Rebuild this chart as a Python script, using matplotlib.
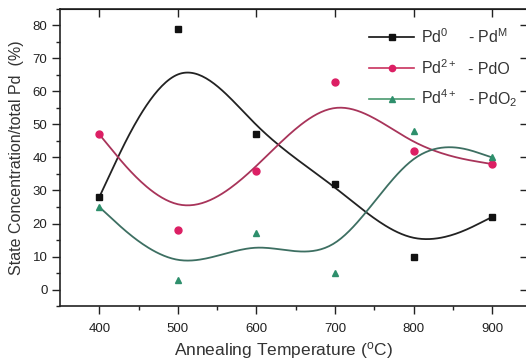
import matplotlib
matplotlib.use("Agg")
import matplotlib.pyplot as plt
import numpy as np

plt.rcParams["font.family"] = ["Liberation Sans", "DejaVu Sans"]
plt.rcParams["mathtext.fontset"] = "custom"
plt.rcParams["mathtext.rm"] = "Liberation Sans"
plt.rcParams["mathtext.it"] = "Liberation Sans"

temps = [400, 500, 600, 700, 800, 900]
pd0 = [28, 79, 47, 32, 10, 22]
pd2 = [47, 18, 36, 63, 42, 38]
pd4 = [25, 3, 17, 5, 48, 40]

labels = ["Pd$^0$", "Pd$^{2+}$", "Pd$^{4+}$"]
suffixes = ["- Pd$^M$", "- PdO", "- PdO$_2$"]


def bspline(xs, ys, n=40):
    # uniform cubic B-spline, end points repeated so the curve hits them
    P = np.column_stack([xs, ys]).astype(float)
    P = np.vstack([P[0], P[0], P, P[-1], P[-1]])
    M = np.array([[-1, 3, -3, 1], [3, -6, 3, 0], [-3, 0, 3, 0], [1, 4, 1, 0]]) / 6.0
    u = np.linspace(0, 1, n)
    U = np.column_stack([u ** 3, u ** 2, u, np.ones_like(u)])
    segs = [U @ M @ P[i:i + 4] for i in range(len(P) - 3)]
    c = np.vstack(segs)
    return c[:, 0], c[:, 1]


fig = plt.figure(figsize=(5.26, 3.63), dpi=100)
ax = fig.add_axes([60 / 526, 57 / 363, 470 / 526, 297 / 363])

series = [
    (pd0, "s", "#111111", "#222222", "#111111"),
    (pd2, "o", "#dc1f64", "#a8345a", "#c8325e"),
    (pd4, "^", "#2e8f6c", "#3d6f62", "#4a9a70"),
]
handles = []
for (vals, mk, mcol, ccol, lcol), lab in zip(series, labels):
    cx, cy = bspline(temps, vals)
    ax.plot(cx, cy, color=ccol, lw=1.3, zorder=2)
    ax.plot(temps, vals, ls="none", marker=mk, ms=5, color=mcol, zorder=3)
    h, = ax.plot([], [], color=lcol, lw=1.2, marker=mk, ms=4.5, mfc=mcol, mec=mcol, label=lab)
    handles.append(h)

ax.set_xlim(350, 948)
ax.set_ylim(-5, 85)
ax.set_xticks(temps)
ax.set_xticks(np.arange(450, 950, 100), minor=True)
ax.set_yticks(np.arange(0, 81, 10))
ax.set_yticks(np.arange(-5, 86, 5), minor=True)
ax.tick_params(axis="both", which="major", direction="out", length=6, width=1,
               labelsize=9.5, colors="#222222", pad=3)
ax.tick_params(axis="both", which="minor", direction="out", length=3, width=1, colors="#222222")
ax.tick_params(axis="x", which="major", pad=6)
for sp in ax.spines.values():
    sp.set_linewidth(1.2)
    sp.set_color("#222222")

# top and right axes: inward major ticks only
top = ax.secondary_xaxis("top")
top.set_xticks(temps)
top.tick_params(direction="in", length=6, width=1, labeltop=False, colors="#222222")
right = ax.secondary_yaxis("right")
right.set_yticks(np.arange(0, 81, 10))
right.tick_params(direction="in", length=7, width=1, labelright=False, colors="#222222")

ax.set_xlabel("Annealing Temperature ($^{\\rm o}$C)", fontsize=12.5, color="#333333")
ax.xaxis.set_label_coords(223 / 470, -34 / 297)
ax.set_ylabel("State Concentration/total Pd  (%)", fontsize=11.5, color="#333333", labelpad=6)

leg = ax.legend(handles=handles, loc="upper left", bbox_to_anchor=(303 / 470, 1 - 12 / 297),
                frameon=False, fontsize=11.5, handlelength=2.8, handletextpad=0.45,
                labelspacing=0.75, borderaxespad=0)
for t in leg.get_texts():
    t.set_color("#333333")

fig.canvas.draw()
inv = fig.transFigure.inverted()
for t, suf in zip(leg.get_texts(), suffixes):
    px, py = t.get_transform().transform(t.get_position())
    y = inv.transform((px, py))[1]
    fig.text(468 / 526, y, suf, fontsize=11.5, color="#333333", va="baseline", ha="left")

fig.savefig("out.png", dpi=100)
